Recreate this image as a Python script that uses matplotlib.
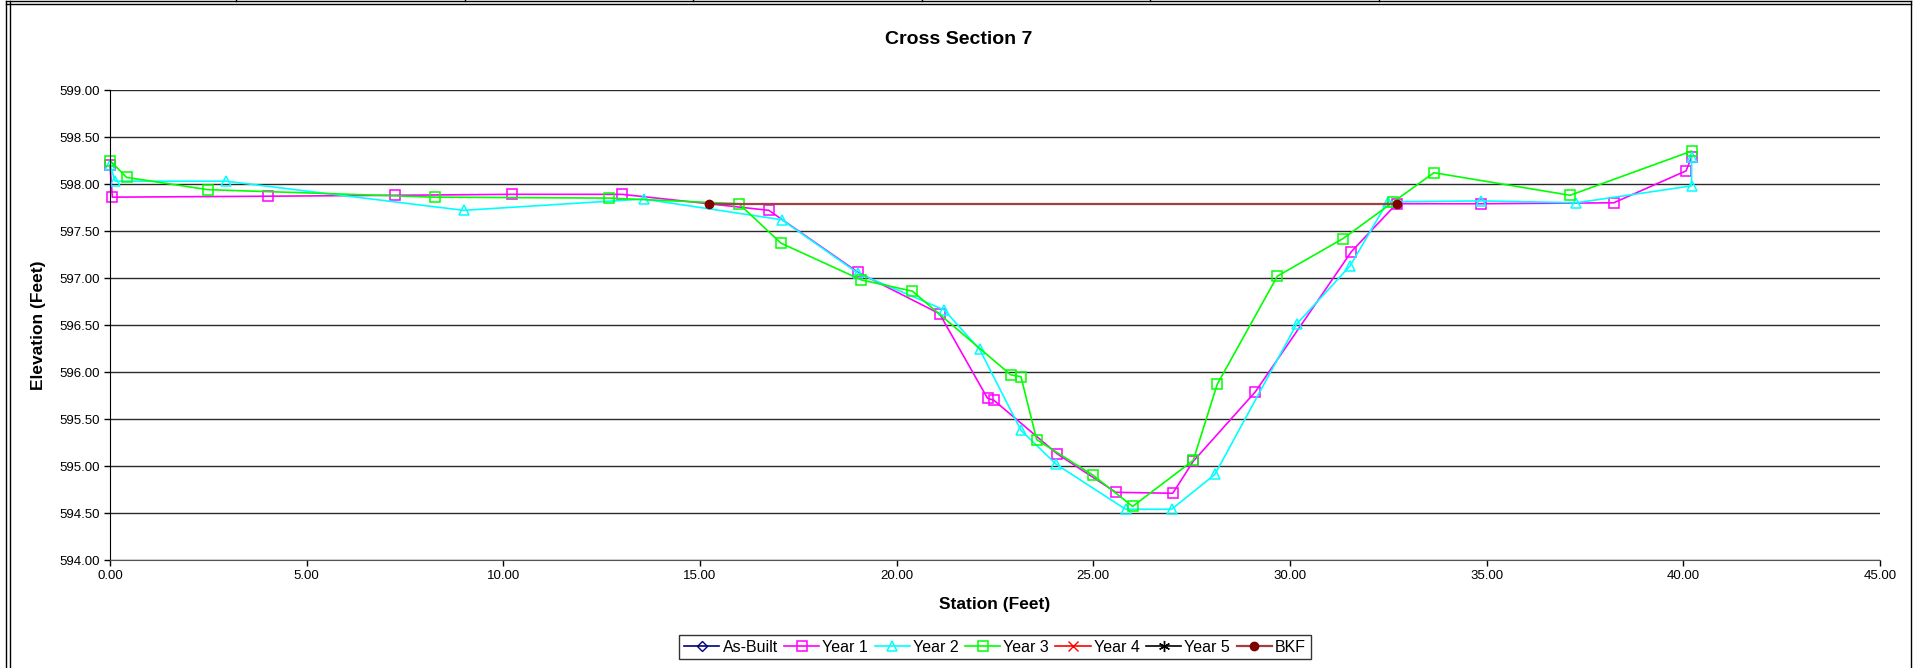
import numpy as np
import matplotlib
matplotlib.use("Agg")
import matplotlib.pyplot as plt
from matplotlib.lines import Line2D
from matplotlib.ticker import MultipleLocator, FormatStrFormatter

plt.rcParams['font.family'] = ['Liberation Sans', 'DejaVu Sans']

# survey data, station / elevation in feet
asbuilt_sta = []
asbuilt_elev = []

yr1_sta = [0.0, 0.06, 4.02, 7.24, 10.23, 13.02, 16.75, 19.02, 21.09, 22.31, 22.47, 24.08,
           25.57, 27.02, 27.54, 29.12, 31.56, 32.71, 34.86, 38.23, 40.07, 40.21]
yr1_elev = [598.20, 597.86, 597.87, 597.88, 597.89, 597.89, 597.72, 597.06, 596.62, 595.72, 595.70, 595.13,
            594.72, 594.71, 595.05, 595.79, 597.28, 597.79, 597.79, 597.80, 598.14, 598.29]

yr2_sta = [0.0, 0.13, 2.95, 8.99, 13.57, 17.08, 19.02, 21.21, 22.11, 23.16, 24.05, 25.82,
           26.99, 28.09, 30.17, 31.53, 32.48, 34.86, 37.28, 40.21, 40.21]
yr2_elev = [598.20, 598.03, 598.03, 597.72, 597.84, 597.62, 597.05, 596.66, 596.24, 595.38, 595.02, 594.54,
            594.54, 594.91, 596.51, 597.13, 597.81, 597.82, 597.80, 597.98, 598.29]

yr3_sta = [0.0, 0.42, 2.48, 8.26, 12.68, 15.99, 17.06, 19.10, 20.40, 22.90, 23.16, 23.56,
           25.00, 26.00, 27.54, 28.15, 29.68, 31.35, 32.63, 33.66, 37.12, 40.21]
yr3_elev = [598.25, 598.07, 597.94, 597.86, 597.85, 597.79, 597.37, 596.98, 596.86, 595.97, 595.95, 595.28,
            594.90, 594.57, 595.06, 595.87, 597.02, 597.42, 597.81, 598.12, 597.88, 598.35]

yr4_sta = []
yr4_elev = []
yr5_sta = []
yr5_elev = []

bkf_sta = [15.22, 32.71]
bkf_elev = [597.79, 597.79]

W, H = 1917, 668
fig = plt.figure(figsize=(W / 100, H / 100), dpi=100)
fig.patch.set_facecolor('white')

def fx(px):
    return px / W

def fy(py):
    return 1 - py / H

ax = fig.add_axes([fx(110), fy(560), fx(1880) - fx(110), fy(90) - fy(560)])

common = dict(lw=1.2, ms=7, mew=1.1, clip_on=False)
ax.plot(asbuilt_sta, asbuilt_elev, color='#000080', marker='D', mfc='none', ms=5, label='As-Built', lw=1.2)
ax.plot(yr1_sta, yr1_elev, color='#ff00ff', marker='s', mfc='none', label='Year 1', **common)
ax.plot(yr2_sta, yr2_elev, color='#00ffff', marker='^', mfc='none', label='Year 2', **common)
ax.plot(yr3_sta, yr3_elev, color='#00ff00', marker='s', mfc='none', label='Year 3', **common)
ax.plot(yr4_sta, yr4_elev, color='#ff0000', marker='x', ms=7, label='Year 4', lw=1.2)
ax.plot(yr5_sta, yr5_elev, color='black', marker=(6, 2, 0), ms=8, label='Year 5', lw=1.2)
ax.plot(bkf_sta, bkf_elev, color='#a04040', lw=1.6, marker='o', ms=6, mfc='#800000', mec='#800000',
        label='BKF', clip_on=False)

ax.set_xlim(0, 45)
ax.set_ylim(594, 599)
ax.xaxis.set_major_locator(MultipleLocator(5))
ax.yaxis.set_major_locator(MultipleLocator(0.5))
ax.xaxis.set_major_formatter(FormatStrFormatter('%.2f'))
ax.yaxis.set_major_formatter(FormatStrFormatter('%.2f'))
ax.grid(axis='y', color='#2a2a2a', lw=1.0)
ax.set_axisbelow(True)
for s in ['top', 'right']:
    ax.spines[s].set_visible(False)
ax.spines['left'].set_color('black')
ax.spines['bottom'].set_color('#555555')
ax.tick_params(direction='out', length=4, width=1, labelsize=9.5, colors='black', pad=3)

ax.set_xlabel('Station (Feet)', fontsize=12.5, fontweight='bold', labelpad=11)
ax.set_ylabel('Elevation (Feet)', fontsize=12.5, fontweight='bold', labelpad=10)
fig.text(0.5, fy(40), 'Cross Section 7', ha='center', va='center', fontsize=14, fontweight='bold')

leg = ax.legend(loc='center', bbox_to_anchor=(fx(995), fy(647)), bbox_transform=fig.transFigure,
                ncol=7, fontsize=11.5, frameon=True, fancybox=False, edgecolor='black',
                handlelength=2.2, handletextpad=0.2, columnspacing=0.4, borderpad=0.3,
                borderaxespad=0)
leg.get_frame().set_linewidth(1.0)

# outer chart border
for x in (6, 10):
    fig.add_artist(Line2D([fx(x), fx(x)], [fy(1), 0], color='black', lw=1.0))
fig.add_artist(Line2D([fx(1911), fx(1911)], [fy(1), 0], color='black', lw=1.0))
for y in (1, 4):
    fig.add_artist(Line2D([fx(6), fx(1911)], [fy(y), fy(y)], color='black', lw=1.0))
for x in (236, 465, 693, 922, 1150, 1379):
    fig.add_artist(Line2D([fx(x), fx(x)], [1, fy(1)], color='black', lw=1.0))

fig.savefig('out.png', dpi=100)
